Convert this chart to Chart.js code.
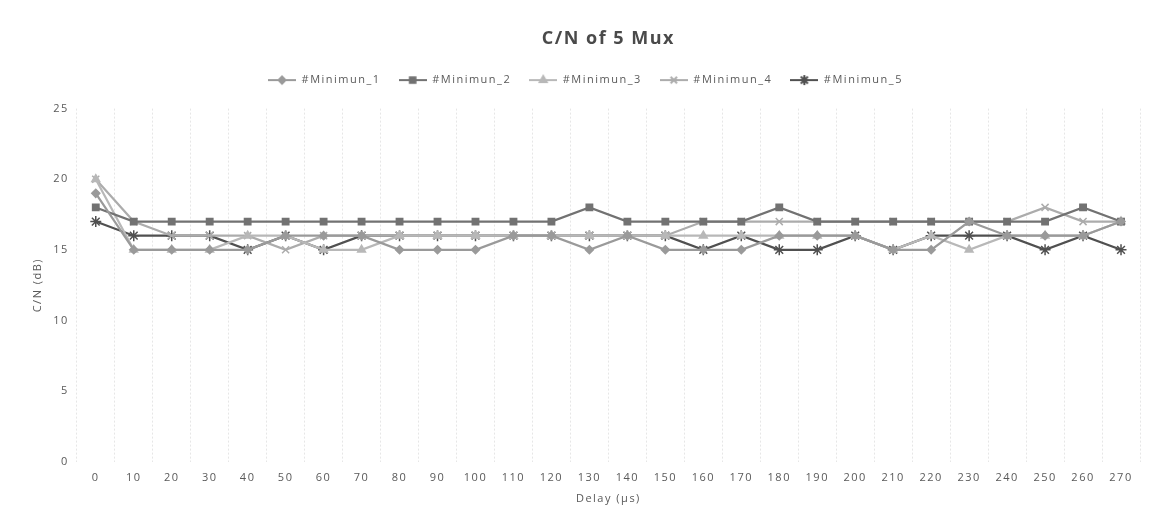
<!DOCTYPE html>
<html>
<head>
<meta charset="utf-8">
<title>C/N of 5 Mux</title>
<script src="https://cdn.jsdelivr.net/npm/chart.js@4/dist/chart.umd.min.js"></script>
<style>
  html, body { margin: 0; padding: 0; background: #fff; }
  #wrap { width: 1158px; height: 508px; }
</style>
</head>
<body>
<div id="wrap"><canvas id="cn"></canvas></div>
<script>
// delay steps in microseconds
const delays = [0, 10, 20, 30, 40, 50, 60, 70, 80, 90, 100, 110, 120, 130,
  140, 150, 160, 170, 180, 190, 200, 210, 220, 230, 240, 250, 260, 270];

// minimum C/N (dB) per mux
const minimun1 = [19, 15, 15, 15, 15, 16, 16, 16, 15, 15, 15, 16, 16, 15, 16, 15, 15, 15, 16, 16, 16, 15, 15, 17, 16, 16, 16, 17];
const minimun2 = [18, 17, 17, 17, 17, 17, 17, 17, 17, 17, 17, 17, 17, 18, 17, 17, 17, 17, 18, 17, 17, 17, 17, 17, 17, 17, 18, 17];
const minimun3 = [20, 15, 15, 15, 16, 16, 15, 15, 16, 16, 16, 16, 16, 16, 16, 16, 16, 16, 16, 16, 16, 15, 16, 15, 16, 16, 16, 17];
const minimun4 = [20, 17, 16, 16, 16, 15, 16, 16, 16, 16, 16, 16, 16, 16, 16, 16, 17, 17, 17, 17, 17, 17, 17, 17, 17, 18, 17, 17];
const minimun5 = [17, 16, 16, 16, 15, 16, 15, 16, 16, 16, 16, 16, 16, 16, 16, 16, 15, 16, 15, 15, 16, 15, 16, 16, 16, 15, 16, 15];

const yTicks = [0, 5, 10, 15, 20, 25];

const FONT = '"Open Sans", "DejaVu Sans", sans-serif';

const series = [
  { label: '#Minimun_1', data: minimun1, color: '#9a9a9a', style: 'rectRot', r: 4 },
  { label: '#Minimun_2', data: minimun2, color: '#727272', style: 'rect', r: 4.5 },
  { label: '#Minimun_3', data: minimun3, color: '#b8b8b8', style: 'triangle', r: 4.5 },
  { label: '#Minimun_4', data: minimun4, color: '#acacac', style: 'crossRot', r: 5 },
  { label: '#Minimun_5', data: minimun5, color: '#505050', style: 'star', r: 5.5 }
];

// legend swatch: short line with the series marker in the middle
function legendSwatch(s) {
  const c = document.createElement('canvas');
  c.width = 28; c.height = 12;
  const g = c.getContext('2d');
  g.strokeStyle = s.color;
  g.lineWidth = 2;
  g.beginPath(); g.moveTo(0, 6); g.lineTo(28, 6); g.stroke();
  g.fillStyle = s.color;
  Chart.helpers.drawPoint(g, {
    pointStyle: s.style, radius: s.r - 0.5, borderWidth: 1.5
  }, 14, 6);
  return c;
}

const datasets = series.map(s => ({
  label: s.label,
  data: s.data,
  borderColor: s.color,
  backgroundColor: s.color,
  borderWidth: 2.2,
  pointStyle: s.style,
  pointRadius: s.r,
  pointBorderWidth: 1.5,
  pointBorderColor: s.color,
  pointBackgroundColor: s.color,
  tension: 0
}));

// wide letter spacing for all chart text, set before any measuring
const spacing = {
  id: 'spacing',
  beforeInit(chart) { chart.ctx.letterSpacing = '1.5px'; },
  beforeUpdate(chart) { chart.ctx.letterSpacing = '1.5px'; }
};

// extra room between the legend row and the plot
const legendGap = {
  id: 'legendGap',
  beforeInit(chart) {
    const fit = chart.legend.fit;
    chart.legend.fit = function () {
      fit.call(this);
      this.height += 13;
    };
  }
};

new Chart(document.getElementById('cn'), {
  type: 'line',
  data: { labels: delays, datasets },
  plugins: [spacing, legendGap],
  options: {
    responsive: true,
    maintainAspectRatio: false,
    animation: false,
    layout: { padding: { left: 31, right: 18, top: 14, bottom: 3 } },
    plugins: {
      title: {
        display: true,
        fullSize: false,
        text: 'C/N of 5 Mux',
        color: '#4a4a4a',
        font: { family: FONT, size: 18, weight: 'bold' },
        padding: { top: 14, bottom: 7 }
      },
      legend: {
        position: 'top',
        labels: {
          color: '#595959',
          font: { family: FONT, size: 11 },
          usePointStyle: true,
          pointStyleWidth: 28,
          padding: 18,
          generateLabels(chart) {
            return series.map((s, i) => ({
              text: s.label,
              pointStyle: legendSwatch(s),
              fillStyle: s.color,
              strokeStyle: s.color,
              fontColor: '#595959',
              lineWidth: 0,
              hidden: false,
              datasetIndex: i
            }));
          }
        }
      },
      tooltip: { enabled: false }
    },
    scales: {
      x: {
        offset: true,
        grid: {
          offset: true,
          color: '#e6e6e6',
          lineWidth: 1,
          drawTicks: false
        },
        border: { display: false, dash: [2, 2] },
        ticks: {
          color: '#595959',
          font: { family: FONT, size: 11 },
          padding: 10,
          maxRotation: 0,
          autoSkip: false
        },
        title: {
          display: true,
          text: 'Delay (µs)',
          color: '#595959',
          font: { family: FONT, size: 11 },
          padding: { top: -3, bottom: 0 }
        }
      },
      y: {
        min: 0,
        max: 25,
        afterBuildTicks(scale) { scale.ticks = yTicks.map(v => ({ value: v })); },
        grid: { display: false },
        border: { display: false },
        ticks: {
          color: '#595959',
          font: { family: FONT, size: 11 },
          padding: 0
        },
        title: {
          display: true,
          text: 'C/N (dB)',
          color: '#595959',
          font: { family: FONT, size: 11 },
          padding: { top: 0, bottom: 9 }
        }
      }
    }
  }
});
</script>
</body>
</html>
